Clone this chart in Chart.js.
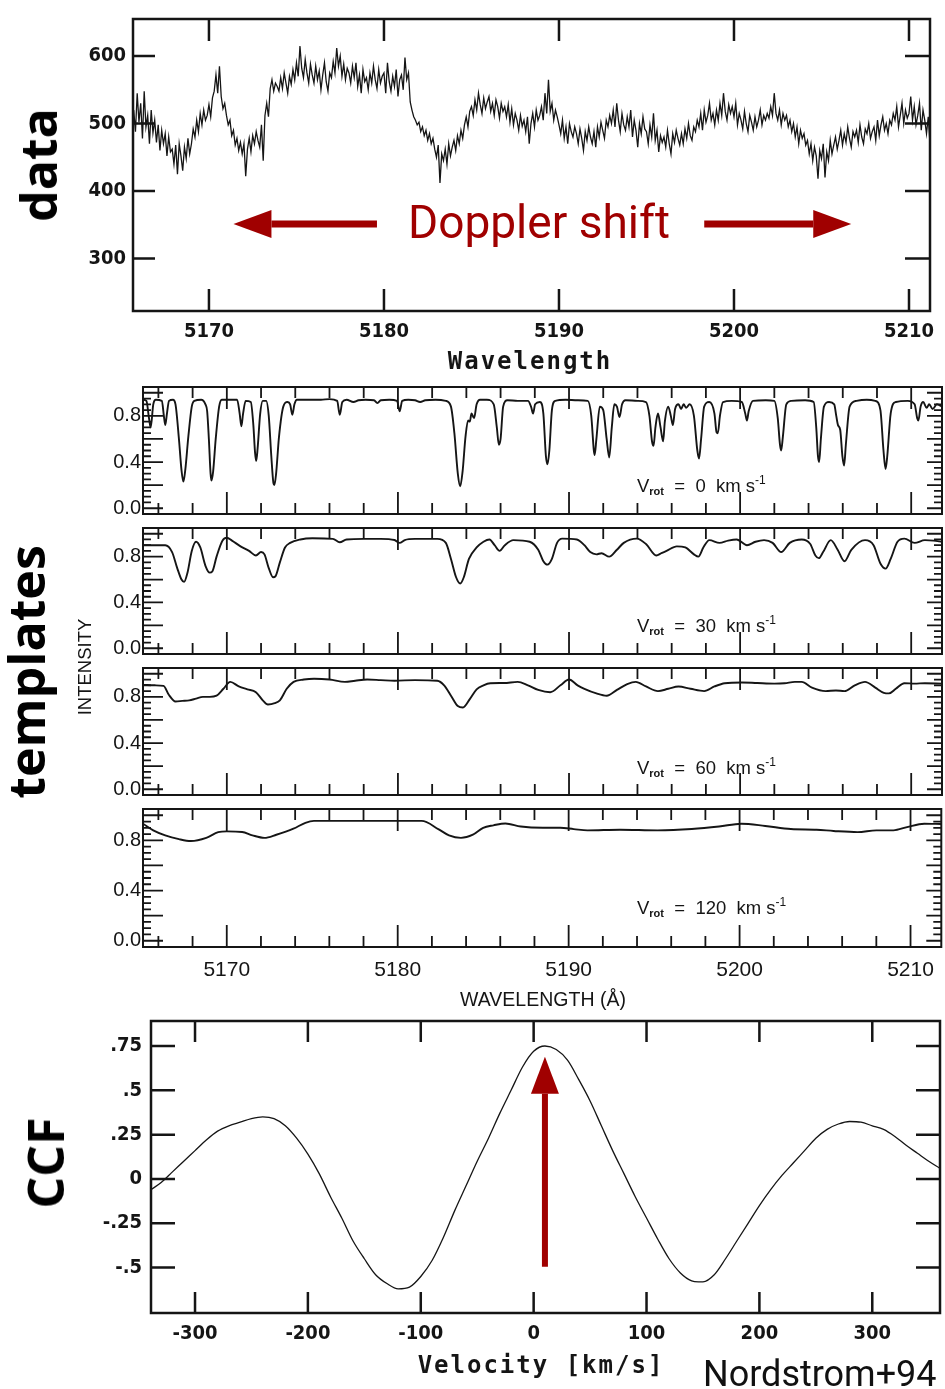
<!DOCTYPE html>
<html>
<head>
<meta charset="utf-8">
<script src="https://cdn.jsdelivr.net/npm/chart.js@4.4.1/dist/chart.umd.min.js"></script>
<style>
  body{margin:0;background:#fff;width:945px;height:1389px;position:relative;overflow:hidden;font-family:"Liberation Sans",Arial,sans-serif;color:#151515}
  canvas{position:absolute;left:0}
  .t{position:absolute;white-space:pre;line-height:1}
  .side{font-family:"Open Sans","Noto Sans",sans-serif;font-weight:700;font-size:50px;color:#000;transform:translate(-50%,-50%) rotate(-90deg)}
  .mono{font-family:"DejaVu Sans Mono",monospace;font-weight:700;font-size:24px;letter-spacing:2px;transform:translate(-50%,-50%)}
  .vrot{font-size:18.5px}
  .vrot sub{font-size:11px;font-weight:700;position:relative;top:3px;vertical-align:baseline}
  .vrot sup{font-size:12px;position:relative;top:-8px;vertical-align:baseline}
</style>
</head>
<body>
<canvas id="cData" width="945" height="380" style="top:0"></canvas>
<canvas id="cT0" width="945" height="165" style="top:373px"></canvas>
<canvas id="cT1" width="945" height="164" style="top:514px"></canvas>
<canvas id="cT2" width="945" height="165" style="top:654px"></canvas>
<canvas id="cT3" width="945" height="192" style="top:795px"></canvas>
<canvas id="cCcf" width="945" height="389" style="top:1000px"></canvas>

<div class="t side" style="left:38px;top:165px">data</div>
<div class="t side" style="left:26px;top:672px">templates</div>
<div class="t side" style="left:45px;top:1163px">CCF</div>
<div class="t" style="left:539px;top:222px;transform:translate(-50%,-50%);font-family:Roboto,sans-serif;font-size:46px;color:#a00000">Doppler shift</div>
<div class="t mono" style="left:530px;top:361px">Wavelength</div>
<div class="t" style="left:85px;top:667px;transform:translate(-50%,-50%) rotate(-90deg);font-size:18.5px">INTENSITY</div>
<div class="t" style="left:543px;top:1000px;transform:translate(-50%,-50%);font-size:19.5px">WAVELENGTH (Å)</div>
<div class="t mono" style="left:541px;top:1365px">Velocity [km/s]</div>
<div class="t" style="left:703px;top:1374px;transform:translateY(-50%);font-family:Roboto,sans-serif;font-size:36px;color:#111">Nordstrom+94</div>
<div id="vrots"></div>

<script>
// ---- observed spectrum (top panel), sampled every 0.1 A from 5165.7
const dataWl0 = 5165.7, dataWlStep = 0.1;
const dataFlux = [
  520, 488, 545,
  502, 530, 478, 548, 495, 512, 470, 520, 486, 505,
  472, 498, 460, 490, 470, 485, 452, 480, 458, 462,
  440, 468, 425, 470, 452, 430, 465, 448, 478, 455,
  470, 492, 480, 505, 488, 515, 498, 520, 505, 512,
  528, 510, 538, 548, 572, 545, 585, 540, 522, 530,
  512, 498, 505, 482, 490, 468, 478, 460, 472, 455,
  470, 422, 462, 478, 458, 482, 470, 488, 475, 465,
  498, 445, 512, 530, 510, 552, 565, 548, 560, 555,
  548, 568, 552, 575, 560, 545, 570, 558, 580, 565,
  590, 570, 615, 582, 568, 595, 575, 560, 588, 572,
  560, 585, 565, 578, 550, 572, 590, 562, 548, 575,
  568, 592, 575, 612, 585, 600, 570, 588, 565, 582,
  575, 560, 585, 568, 590, 555, 572, 545, 580, 562,
  568, 550, 575, 560, 585, 565, 552, 580, 560, 570,
  575, 545, 590, 562, 548, 570, 555, 580, 540, 565,
  572, 550, 598, 565, 575, 532, 520, 510, 505, 498,
  502, 488, 495, 482, 490, 475, 485, 470, 478, 462,
  450, 468, 412, 455, 445, 462, 440, 470, 452, 465,
  475, 460, 482, 470, 490, 478, 498, 510, 495, 518,
  525, 512, 535, 520, 545, 528, 515, 538, 522, 532,
  540, 518, 530, 512, 535, 525, 508, 530, 518, 525,
  510, 528, 502, 522, 498, 515, 505, 490, 512, 496,
  505, 488, 510, 470, 500, 515, 495, 520, 505, 512,
  525, 505, 545, 515, 565, 518, 530, 505, 520, 510,
  498, 485, 505, 478, 495, 470, 500, 488, 480, 495,
  485, 470, 492, 478, 460, 488, 475, 495, 480, 470,
  488, 465, 495, 480, 502, 490, 478, 505, 495, 512,
  500, 520, 495, 530, 505, 488, 515, 498, 490, 510,
  495, 520, 480, 505, 490, 465, 500, 485, 510, 492,
  488, 470, 498, 480, 515, 475, 490, 458, 482, 472,
  480, 465, 490, 470, 455, 485, 472, 490, 478, 468,
  485, 470, 492, 478, 500, 482, 475, 495, 488, 505,
  495, 515, 490, 520, 502, 512, 530, 505, 515, 498,
  520, 505, 530, 512, 545, 518, 505, 528, 515, 525,
  510, 530, 498, 515, 505, 492, 518, 500, 488, 512,
  502, 490, 510, 495, 505, 520, 498, 512, 505, 515,
  508, 525, 512, 545, 515, 505, 520, 498, 515, 505,
  512, 495, 505, 488, 500, 480, 495, 470, 490, 478,
  485, 468, 475, 455, 470, 445, 465, 452, 418, 460,
  448, 470, 420, 458, 445, 475, 455, 468, 480, 462,
  475, 490, 468, 485, 472, 495, 478, 465, 488, 480,
  490, 472, 498, 480, 470, 492, 485, 500, 478, 488,
  495, 475, 505, 482, 498, 510, 490, 500, 485, 505,
  498, 515, 505, 525, 495, 512, 530, 500, 520, 508,
  515, 540, 505, 525, 498, 512, 530, 490, 520, 505,
  485, 510, 470
];
const dataXTicks = [5170, 5180, 5190, 5200, 5210];
const dataYTicks = [300, 400, 500, 600];

// ---- rotationally broadened templates, [wavelength, intensity]
const vrotValues = ['0', '30', '60', '120'];
const tmplXTicks = [5170, 5180, 5190, 5200, 5210];
const tmplYTicks = [0, 0.4, 0.8];
const tmpl0 = [
  [5165.1,0.94],[5165.3,0.93],[5165.45,0.78],[5165.55,0.70],[5165.7,0.9],[5165.85,0.94],
  [5166.2,0.93],[5166.32,0.8],[5166.4,0.72],[5166.5,0.82],[5166.62,0.93],
  [5166.85,0.94],[5167.0,0.9],[5167.2,0.6],[5167.35,0.33],[5167.46,0.23],[5167.57,0.33],[5167.75,0.62],[5167.95,0.88],[5168.1,0.93],
  [5168.5,0.94],[5168.75,0.9],[5168.85,0.84],[5168.95,0.6],[5169.05,0.3],[5169.1,0.24],[5169.2,0.32],[5169.35,0.6],[5169.55,0.88],[5169.7,0.94],
  [5170.6,0.94],[5170.75,0.82],[5170.85,0.71],[5170.95,0.82],[5171.1,0.93],
  [5171.4,0.92],[5171.55,0.72],[5171.65,0.48],[5171.72,0.41],[5171.8,0.52],[5171.95,0.82],[5172.1,0.93],
  [5172.3,0.93],[5172.45,0.8],[5172.6,0.45],[5172.72,0.22],[5172.78,0.2],[5172.88,0.3],[5173.05,0.62],[5173.3,0.88],[5173.55,0.92],
  [5173.7,0.9],[5173.83,0.81],[5173.95,0.9],[5174.1,0.94],
  [5175.5,0.94],[5176.0,0.945],[5176.45,0.93],[5176.6,0.81],[5176.75,0.92],[5177.0,0.94],[5177.4,0.92],[5177.7,0.935],
  [5178.1,0.94],[5178.6,0.935],[5178.8,0.91],[5179.0,0.935],[5179.5,0.94],[5179.95,0.93],[5180.1,0.84],[5180.25,0.93],
  [5180.6,0.94],[5181.0,0.935],[5181.3,0.92],[5181.6,0.935],[5182.2,0.94],[5182.8,0.93],
  [5183.1,0.88],[5183.3,0.65],[5183.5,0.3],[5183.64,0.19],[5183.78,0.32],[5183.95,0.62],[5184.1,0.76],[5184.2,0.75],
  [5184.3,0.82],[5184.45,0.78],[5184.6,0.9],[5184.8,0.94],[5185.2,0.94],[5185.6,0.9],[5185.78,0.7],[5185.9,0.55],
  [5186.0,0.6],[5186.15,0.88],[5186.4,0.935],[5187.0,0.93],[5187.6,0.93],[5187.78,0.88],[5187.9,0.82],[5188.02,0.9],
  [5188.3,0.92],[5188.5,0.82],[5188.65,0.45],[5188.74,0.38],[5188.85,0.5],[5189.0,0.85],[5189.2,0.93],[5189.8,0.94],
  [5190.5,0.935],[5191.1,0.93],[5191.3,0.8],[5191.45,0.5],[5191.5,0.46],[5191.6,0.6],[5191.8,0.88],[5192.0,0.85],
  [5192.2,0.6],[5192.35,0.44],[5192.5,0.7],[5192.65,0.9],[5192.8,0.88],[5192.95,0.79],[5193.1,0.9],[5193.3,0.935],
  [5194.0,0.93],[5194.5,0.92],[5194.7,0.8],[5194.85,0.58],[5194.94,0.54],[5195.05,0.7],[5195.2,0.82],[5195.35,0.7],
  [5195.5,0.58],[5195.6,0.75],[5195.8,0.88],[5195.95,0.8],[5196.07,0.72],[5196.2,0.86],[5196.4,0.9],[5196.55,0.86],
  [5196.7,0.9],[5196.85,0.87],[5197.05,0.9],[5197.3,0.8],[5197.5,0.5],[5197.6,0.43],[5197.72,0.6],[5197.9,0.88],
  [5198.2,0.92],[5198.5,0.82],[5198.62,0.66],[5198.7,0.65],[5198.82,0.8],[5199.0,0.92],[5199.5,0.93],[5200.1,0.92],
  [5200.3,0.82],[5200.4,0.76],[5200.5,0.84],[5200.75,0.93],[5201.5,0.935],[5202.0,0.93],[5202.2,0.78],[5202.33,0.55],
  [5202.4,0.5],[5202.5,0.62],[5202.7,0.9],[5203.0,0.93],[5203.8,0.935],[5204.3,0.92],[5204.45,0.7],[5204.55,0.45],
  [5204.62,0.4],[5204.72,0.6],[5204.9,0.88],[5205.2,0.92],[5205.5,0.9],[5205.62,0.8],[5205.72,0.72],[5205.85,0.68],
  [5205.98,0.45],[5206.08,0.37],[5206.18,0.55],[5206.4,0.88],[5206.8,0.93],[5207.4,0.94],[5207.9,0.93],[5208.2,0.85],
  [5208.38,0.5],[5208.5,0.34],[5208.6,0.45],[5208.8,0.82],[5209.1,0.92],[5209.8,0.93],[5210.2,0.9],[5210.35,0.78],
  [5210.42,0.76],[5210.55,0.88],[5210.7,0.92],[5210.9,0.87],[5211.05,0.9],[5211.25,0.86],[5211.5,0.9],[5211.8,0.88]
];
const tmpl30 = [
  [5165.1,0.9],[5166.4,0.9],[5166.8,0.84],[5167.1,0.7],[5167.35,0.6],[5167.5,0.58],[5167.7,0.66],[5167.95,0.85],
  [5168.2,0.93],[5168.45,0.88],[5168.75,0.72],[5169.0,0.66],[5169.15,0.67],[5169.4,0.8],[5169.75,0.94],[5170.0,0.965],
  [5170.3,0.94],[5170.8,0.89],[5171.3,0.85],[5171.7,0.81],[5172.0,0.84],[5172.2,0.82],[5172.45,0.7],[5172.7,0.62],
  [5172.85,0.63],[5173.1,0.75],[5173.4,0.88],[5173.7,0.92],[5174.3,0.95],[5175,0.96],[5176.2,0.955],[5176.6,0.925],
  [5177,0.95],[5178,0.955],[5179,0.955],[5179.8,0.945],[5180.1,0.92],[5180.4,0.945],[5181,0.955],[5182.3,0.955],
  [5182.8,0.92],[5183.1,0.78],[5183.4,0.62],[5183.64,0.565],[5183.85,0.62],[5184.15,0.78],[5184.6,0.88],[5185.0,0.93],
  [5185.35,0.95],[5185.65,0.9],[5185.94,0.85],[5186.25,0.9],[5186.75,0.944],[5187.7,0.93],[5188.2,0.86],[5188.5,0.76],
  [5188.74,0.73],[5189.0,0.78],[5189.3,0.92],[5189.6,0.957],[5190.46,0.95],[5190.9,0.9],[5191.24,0.84],[5191.6,0.82],
  [5191.9,0.83],[5192.35,0.8],[5192.8,0.86],[5193.2,0.92],[5193.96,0.957],[5194.5,0.91],[5195.1,0.81],[5195.4,0.83],
  [5195.7,0.85],[5196.3,0.89],[5196.8,0.88],[5197.3,0.82],[5197.56,0.8],[5197.85,0.88],[5198.2,0.944],[5198.8,0.92],
  [5199.3,0.94],[5199.8,0.95],[5200.4,0.9],[5200.9,0.93],[5201.4,0.944],[5201.9,0.92],[5202.4,0.84],[5202.9,0.92],
  [5203.6,0.95],[5204.1,0.91],[5204.4,0.81],[5204.6,0.787],[5204.85,0.84],[5205.3,0.944],[5205.7,0.86],[5206.1,0.76],
  [5206.5,0.86],[5207.3,0.944],[5207.8,0.9],[5208.2,0.74],[5208.5,0.695],[5208.8,0.78],[5209.2,0.93],[5209.6,0.957],
  [5210.2,0.92],[5210.8,0.944],[5211.3,0.94],[5211.8,0.93]
];
const tmpl60 = [
  [5165.1,0.904],[5165.8,0.9],[5166.3,0.895],[5166.6,0.82],[5167.0,0.76],[5167.4,0.765],[5167.8,0.77],[5168.2,0.785],
  [5168.6,0.80],[5169.0,0.8],[5169.4,0.81],[5169.8,0.87],[5170.2,0.93],[5170.7,0.89],[5171.2,0.865],[5171.7,0.84],
  [5172.1,0.77],[5172.4,0.734],[5172.8,0.745],[5173.1,0.77],[5173.5,0.87],[5173.9,0.93],[5174.5,0.95],[5175.1,0.957],
  [5176,0.95],[5176.9,0.93],[5177.5,0.94],[5178.2,0.95],[5179,0.945],[5179.8,0.94],[5181,0.945],[5182.3,0.94],
  [5182.7,0.9],[5183.1,0.81],[5183.5,0.72],[5183.8,0.708],[5184.2,0.78],[5184.6,0.865],[5185.0,0.9],[5185.4,0.918],
  [5186.2,0.92],[5187.0,0.93],[5187.6,0.9],[5188.2,0.86],[5188.9,0.84],[5189.5,0.9],[5190.0,0.95],[5190.5,0.9],
  [5190.9,0.87],[5191.6,0.83],[5192.2,0.81],[5192.8,0.86],[5193.4,0.91],[5193.9,0.93],[5194.5,0.89],[5195.2,0.85],
  [5195.8,0.87],[5196.4,0.89],[5197.1,0.87],[5197.9,0.85],[5198.5,0.89],[5199.1,0.918],[5200.1,0.925],[5201,0.92],
  [5202,0.915],[5202.6,0.918],[5203.2,0.93],[5203.6,0.93],[5204.2,0.88],[5205.0,0.85],[5205.6,0.855],[5206.1,0.85],
  [5206.7,0.9],[5207.3,0.93],[5207.9,0.88],[5208.4,0.835],[5208.7,0.83],[5209.1,0.87],[5209.6,0.918],[5210.2,0.915],
  [5210.8,0.918],[5211.8,0.915]
];
const tmpl120 = [
  [5165.1,0.933],[5165.7,0.88],[5166.4,0.84],[5167.2,0.81],[5167.9,0.795],[5168.8,0.82],[5169.5,0.865],[5170.0,0.872],
  [5170.9,0.867],[5171.5,0.84],[5172.2,0.82],[5172.9,0.845],[5173.9,0.893],[5174.6,0.94],[5175.1,0.955],[5178,0.955],
  [5181.4,0.955],[5182.4,0.888],[5183.0,0.84],[5183.7,0.82],[5184.4,0.845],[5185.0,0.9],[5185.6,0.92],[5186.3,0.935],
  [5187.2,0.91],[5188.5,0.9],[5189.5,0.9],[5190.3,0.89],[5191.1,0.88],[5193,0.885],[5195.2,0.88],[5197.2,0.89],
  [5198.8,0.91],[5200.1,0.933],[5201.5,0.915],[5203.0,0.89],[5204.5,0.885],[5205.5,0.875],[5206.9,0.866],[5208.0,0.88],
  [5209.0,0.88],[5209.8,0.906],[5210.8,0.933],[5211.8,0.93]
];
const templates = [tmpl0, tmpl30, tmpl60, tmpl120];

// ---- cross-correlation function
const ccfVel = [-339,-330,-320,-310,-300,-290,-280,-270,-260,-250,-240,-230,-220,-210,-200,-190,-180,-170,-160,-150,
  -140,-130,-120,-110,-100,-90,-80,-70,-60,-50,-40,-30,-20,-10,0,10,20,30,40,50,60,70,80,90,100,110,120,130,140,146,
  150,160,170,180,190,200,210,220,230,240,250,260,270,280,290,300,310,320,330,340,350,360];
const ccfVal = [-0.06,-0.02,0.04,0.10,0.16,0.22,0.27,0.30,0.32,0.34,0.35,0.34,0.30,0.23,0.14,0.03,-0.10,-0.22,-0.35,-0.45,
  -0.54,-0.59,-0.62,-0.61,-0.55,-0.46,-0.33,-0.18,-0.04,0.10,0.23,0.37,0.50,0.63,0.72,0.75,0.73,0.67,0.56,0.44,0.30,0.16,0.03,-0.10,-0.22,-0.34,-0.45,-0.53,-0.575,-0.58,
  -0.58,-0.54,-0.45,-0.35,-0.25,-0.15,-0.06,0.02,0.09,0.16,0.23,0.28,0.31,0.324,0.32,0.30,0.28,0.24,0.19,0.145,0.10,0.06];
const ccfXTicks = [-300, -200, -100, 0, 100, 200, 300];
const ccfYTicks = [-0.5, -0.25, 0, 0.25, 0.5, 0.75];

const ink = '#151515';
const red = '#a00000';
const condFont = '"DejaVu Sans Condensed","Liberation Sans Narrow","DejaVu Sans Mono",monospace';
const helv = '"Liberation Sans",Arial,sans-serif';

Chart.defaults.animation = false;
Chart.defaults.color = ink;

// box, inward tick marks and arrows, all placed through the chart scales
const frame = {
  id: 'frame',
  afterDatasetsDraw(chart, args, o) {
    const {ctx, chartArea: a} = chart;
    const sx = chart.scales.x, sy = chart.scales.y;
    ctx.save();
    ctx.strokeStyle = ink;
    ctx.lineWidth = o.tickWidth || 2;
    (o.xMarks || []).forEach(m => m.values.forEach(v => {
      const p = sx.getPixelForValue(v);
      ctx.beginPath();
      ctx.moveTo(p, a.top); ctx.lineTo(p, a.top + m.len);
      ctx.moveTo(p, a.bottom); ctx.lineTo(p, a.bottom - m.len);
      ctx.stroke();
    }));
    (o.yMarks || []).forEach(m => m.values.forEach(v => {
      const p = sy.getPixelForValue(v);
      ctx.beginPath();
      if (m.left) { ctx.moveTo(a.left, p); ctx.lineTo(a.left + m.left, p); }
      if (m.right) { ctx.moveTo(a.right, p); ctx.lineTo(a.right - m.right, p); }
      ctx.stroke();
    }));
    ctx.lineWidth = o.frameWidth || 2.5;
    ctx.strokeRect(a.left, a.top, a.right - a.left, a.bottom - a.top);
    (o.arrows || []).forEach(ar => {
      const x0 = sx.getPixelForValue(ar.from[0]), y0 = sy.getPixelForValue(ar.from[1]);
      const x1 = sx.getPixelForValue(ar.to[0]), y1 = sy.getPixelForValue(ar.to[1]);
      const ang = Math.atan2(y1 - y0, x1 - x0), c = Math.cos(ang), s = Math.sin(ang);
      const bx = x1 - c * ar.head, by = y1 - s * ar.head;
      ctx.strokeStyle = ctx.fillStyle = red;
      ctx.lineWidth = ar.width;
      ctx.beginPath(); ctx.moveTo(x0, y0); ctx.lineTo(bx, by); ctx.stroke();
      ctx.beginPath();
      ctx.moveTo(x1, y1);
      ctx.lineTo(bx - s * ar.half, by + c * ar.half);
      ctx.lineTo(bx + s * ar.half, by - c * ar.half);
      ctx.closePath(); ctx.fill();
    });
    ctx.restore();
  }
};
Chart.register(frame);

function fixedTicks(list) {
  return s => { s.ticks = list.map(v => ({value: v})); };
}
const noGrid = {display: false, drawTicks: false};

// ---- top: observed spectrum
const dataPts = dataFlux.map((f, i) => ({x: +(dataWl0 + i * dataWlStep).toFixed(2), y: f}));
new Chart(document.getElementById('cData'), {
  type: 'line',
  data: {datasets: [{data: dataPts, borderColor: ink, borderWidth: 1.3, pointRadius: 0, tension: 0}]},
  options: {
    responsive: false,
    layout: {padding: {left: 0, right: 15, top: 13, bottom: 0}},
    plugins: {
      legend: {display: false}, tooltip: {enabled: false},
      frame: {
        frameWidth: 2.5, tickWidth: 2.5,
        xMarks: [{values: dataXTicks, len: 22}],
        yMarks: [{values: dataYTicks, left: 22, right: 25}],
        arrows: [
          {from: [5179.6, 351], to: [5171.4, 351], width: 7, head: 38, half: 14},
          {from: [5198.3, 351], to: [5206.7, 351], width: 7, head: 38, half: 14}
        ]
      }
    },
    scales: {
      x: {type: 'linear', min: 5165.66, max: 5211.2,
        afterBuildTicks: fixedTicks(dataXTicks),
        afterFit: s => { s.height = 69; },
        grid: noGrid, border: {display: false},
        ticks: {autoSkip: false, maxRotation: 0, padding: 9, callback: v => String(v),
          font: {family: condFont, size: 20, weight: 'bold'}}},
      y: {min: 222, max: 655,
        afterBuildTicks: fixedTicks(dataYTicks),
        afterFit: s => { s.width = 133; },
        grid: noGrid, border: {display: false},
        ticks: {padding: 7, callback: v => String(v), font: {family: condFont, size: 20, weight: 'bold'}}}
    }
  }
});

// ---- middle: four template panels
const tmplTops = [385, 526, 666, 807];
const tmplBottoms = [526, 666, 807, 947];
const minorX = [], majorX = tmplXTicks;
for (let w = 5166; w <= 5210; w += 2) if (w % 10) minorX.push(w);
const minorY = [], majorY = [];
for (let k = 0; k <= 21; k++) { const v = +(k * 0.05).toFixed(2); (k % 4 ? minorY : majorY).push(v); }

templates.forEach((pts, k) => {
  const last = k === 3;
  const cv = document.getElementById('cT' + k);
  new Chart(cv, {
    type: 'line',
    data: {datasets: [{data: pts.map(p => ({x: p[0], y: p[1]})), borderColor: ink, borderWidth: 1.9,
      pointRadius: 0, cubicInterpolationMode: 'monotone'}]},
    options: {
      responsive: false,
      layout: {padding: {left: 0, right: 3, top: 12, bottom: last ? 0 : 12}},
      plugins: {
        legend: {display: false}, tooltip: {enabled: false},
        frame: {
          frameWidth: 2, tickWidth: 1.8,
          xMarks: [{values: minorX, len: 11}, {values: majorX, len: 22}],
          yMarks: [{values: minorY, left: 8, right: 8}, {values: majorY, left: 20, right: 15}]
        }
      },
      scales: {
        x: {type: 'linear', min: 5165.1, max: 5211.8, display: last,
          afterBuildTicks: fixedTicks(tmplXTicks),
          afterFit: s => { s.height = cv.height - 12 - (tmplBottoms[k] - tmplTops[k]); },
          grid: noGrid, border: {display: false},
          ticks: {autoSkip: false, maxRotation: 0, padding: 11, callback: v => String(v),
            font: {family: helv, size: 21}}},
        y: {min: -0.05, max: 1.05,
          afterBuildTicks: fixedTicks(tmplYTicks),
          afterFit: s => { s.width = 143; },
          grid: noGrid, border: {display: false},
          ticks: {padding: 2, callback: v => v.toFixed(1), font: {family: helv, size: 20}}}
      }
    }
  });
});

const vrotBase = [493, 633, 775, 915];
document.getElementById('vrots').innerHTML = vrotValues.map((v, k) =>
  `<div class="t vrot" style="left:637px;top:${vrotBase[k] - 16}px">V<sub>rot</sub>  =  ${v}  km s<sup>-1</sup></div>`
).join('');

// ---- bottom: cross-correlation function
const fmtCcf = v => v === 0 ? '0' : (v < 0 ? '-' : '') + String(Math.abs(v)).replace(/^0/, '');
new Chart(document.getElementById('cCcf'), {
  type: 'line',
  data: {datasets: [{data: ccfVel.map((v, i) => ({x: v, y: ccfVal[i]})), borderColor: ink, borderWidth: 1.3,
    pointRadius: 0, cubicInterpolationMode: 'monotone'}]},
  options: {
    responsive: false,
    layout: {padding: {left: 0, right: 5, top: 21, bottom: 0}},
    plugins: {
      legend: {display: false}, tooltip: {enabled: false},
      frame: {
        frameWidth: 2.5, tickWidth: 2.5,
        xMarks: [{values: ccfXTicks, len: 21}],
        yMarks: [{values: ccfYTicks, left: 24, right: 24}],
        arrows: [{from: [10, -0.495], to: [10, 0.69], width: 6, head: 37, half: 14}]
      }
    },
    scales: {
      x: {type: 'linear', min: -339, max: 360,
        afterBuildTicks: fixedTicks(ccfXTicks),
        afterFit: s => { s.height = 76; },
        grid: noGrid, border: {display: false},
        ticks: {autoSkip: false, maxRotation: 0, padding: 9, callback: v => String(v),
          font: {family: condFont, size: 20, weight: 'bold'}}},
      y: {min: -0.756, max: 0.891,
        afterBuildTicks: fixedTicks(ccfYTicks),
        afterFit: s => { s.width = 151; },
        grid: noGrid, border: {display: false},
        ticks: {padding: 9, callback: fmtCcf, font: {family: condFont, size: 20, weight: 'bold'}}}
    }
  }
});
</script>
</body>
</html>
